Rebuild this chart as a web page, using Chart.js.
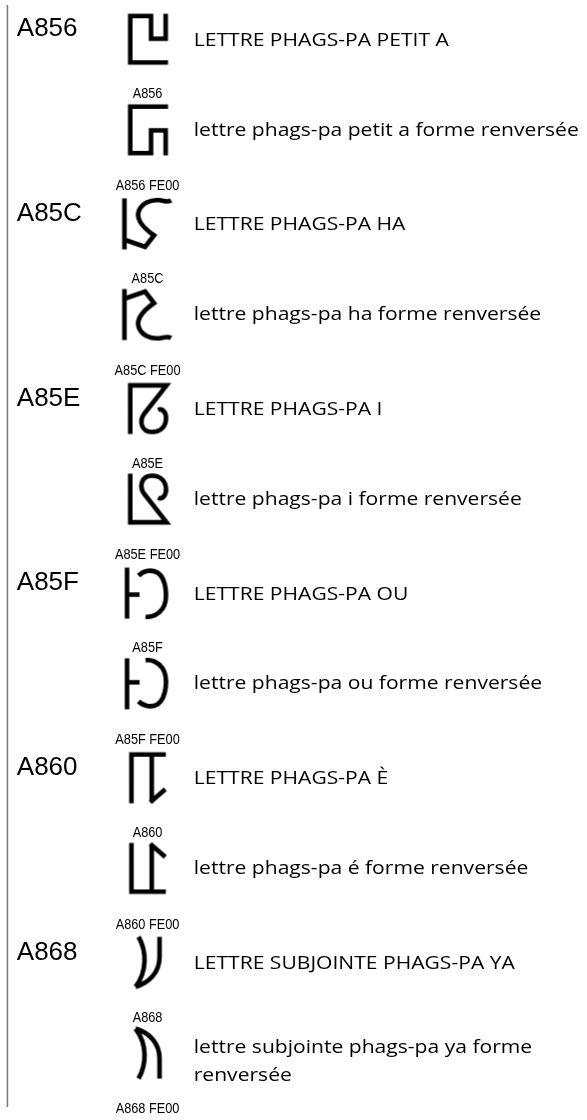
<!DOCTYPE html>
<html>
<head>
<meta charset="utf-8">
<script src="https://cdn.jsdelivr.net/npm/chart.js@4/dist/chart.umd.min.js"></script>
<style>
  html, body { margin: 0; padding: 0; background: #fff; }
  canvas { display: block; }
</style>
</head>
<body>
<canvas id="chart" width="587" height="1120"></canvas>
<script>
const codePoints = ['A856', 'A85C', 'A85E', 'A85F', 'A860', 'A868'];
const variantSelector = 'FE00';
const mainNames = [
  'LETTRE PHAGS-PA PETIT A',
  'LETTRE PHAGS-PA HA',
  'LETTRE PHAGS-PA I',
  'LETTRE PHAGS-PA OU',
  'LETTRE PHAGS-PA È',
  'LETTRE SUBJOINTE PHAGS-PA YA'
];
const variantNames = [
  'lettre phags-pa petit a forme renversée',
  'lettre phags-pa ha forme renversée',
  'lettre phags-pa i forme renversée',
  'lettre phags-pa ou forme renversée',
  'lettre phags-pa é forme renversée',
  'lettre subjointe phags-pa ya forme\nrenversée'
];

// row geometry (pixels)
const firstBase = 31.7, pitch = 186.3, glyphX = 145;
function rowBase(i) { return firstBase + pitch * i; }

// glyph outlines, local box ~51px high; ox = local x that sits on glyphX
const glyphShapes = {
  A856: { ox: 19.5, draw(g) {
    g.moveTo(37.6, 0); g.lineTo(37.6, 25); g.lineTo(23, 25); g.lineTo(23, 2.3);
    g.lineTo(2.2, 2.3); g.lineTo(2.2, 48.7); g.lineTo(40, 48.7);
  }},
  A85C: { ox: 25.5, draw(g) {
    g.moveTo(2.4, 0); g.lineTo(2.4, 51);
    g.moveTo(3, 41.5); g.lineTo(23, 48.5); g.lineTo(32, 37);
    g.bezierCurveTo(22, 30, 13, 21, 17, 12);
    g.bezierCurveTo(20, 5, 28, 1, 37, 1.8);
    g.bezierCurveTo(42, 2.2, 45, 4.5, 49, 2);
  }},
  A85E: { ox: 19.5, draw(g) {
    g.moveTo(2.2, 51); g.lineTo(2.2, 2.4); g.lineTo(38.5, 2.4); g.lineTo(16, 31);
    g.bezierCurveTo(11, 38, 13, 49, 24, 49);
    g.bezierCurveTo(33, 49, 38, 43, 38, 35);
    g.bezierCurveTo(38, 29, 34, 25, 30, 27);
  }},
  A85F: { ox: 23, draw(g) {
    g.moveTo(2.5, 0); g.lineTo(2.5, 51);
    g.moveTo(3, 27); g.lineTo(15, 27);
    g.moveTo(14, 8);
    g.bezierCurveTo(19, 3, 27, 1.5, 33, 5);
    g.bezierCurveTo(42, 11, 44, 32, 38, 41);
    g.bezierCurveTo(34, 47, 27, 50, 21, 49);
  }},
  A860: { ox: 18.3, draw(g) {
    g.moveTo(2.2, 51); g.lineTo(2.2, 2.3); g.lineTo(36.6, 2.3);
    g.moveTo(22.5, 2.3); g.lineTo(22.5, 50);
    g.moveTo(21, 50); g.lineTo(36, 37);
  }},
  A868: { ox: 15, draw(g) {
    g.moveTo(6, 0); g.bezierCurveTo(14, 14, 15, 34, 3, 50);
    g.moveTo(27, 0); g.lineTo(27, 20); g.bezierCurveTo(27, 36, 16, 46, 3, 50);
  }}
};

function glyphImage(code, flipped) {
  const c = document.createElement('canvas');
  c.width = 70; c.height = 70;
  const g = c.getContext('2d');
  const shape = glyphShapes[code];
  g.translate(35, 35);
  if (flipped) g.scale(1, -1);
  g.translate(-shape.ox, -25.5);
  g.strokeStyle = '#000';
  g.lineWidth = 4.6;
  g.lineJoin = 'miter';
  g.lineCap = 'butt';
  g.beginPath();
  shape.draw(g);
  g.stroke();
  return c;
}

const mainImages = codePoints.map(c => glyphImage(c, false));
const variantImages = codePoints.map(c => glyphImage(c, true));

const labelsPlugin = {
  id: 'chartLabels',
  afterDatasetsDraw(chart) {
    const ctx = chart.ctx;
    const xs = chart.scales.x, ys = chart.scales.y;
    ctx.save();

    // left rule
    ctx.strokeStyle = '#777';
    ctx.lineWidth = 1.5;
    ctx.beginPath();
    ctx.moveTo(xs.getPixelForValue(2.5), ys.getPixelForValue(0));
    ctx.lineTo(xs.getPixelForValue(2.5), ys.getPixelForValue(1112));
    ctx.stroke();

    ctx.fillStyle = '#000';
    ctx.textBaseline = 'alphabetic';

    ctx.font = '19px "Open Sans"';
    const nameScale = 385 / ctx.measureText(variantNames[0]).width;

    function smallLabel(text, y) {
      ctx.save();
      ctx.font = '15px "Liberation Sans", Arial';
      ctx.textAlign = 'center';
      ctx.translate(xs.getPixelForValue(glyphX), ys.getPixelForValue(y));
      ctx.scale(0.85, 1);
      ctx.fillText(text, 0, 0);
      ctx.restore();
    }

    function nameText(text, y) {
      ctx.save();
      ctx.font = '19px "Open Sans"';
      ctx.textAlign = 'left';
      ctx.translate(xs.getPixelForValue(192), ys.getPixelForValue(y));
      ctx.scale(nameScale, 1);
      ctx.fillText(text, 0, 0);
      ctx.restore();
    }

    codePoints.forEach((code, i) => {
      const b = rowBase(i);
      ctx.font = '26px "Liberation Sans", Arial';
      ctx.textAlign = 'left';
      ctx.fillText(code, xs.getPixelForValue(12), ys.getPixelForValue(b));

      nameText(mainNames[i], b + 9.5);
      smallLabel(code, b + 62.5);

      const lines = variantNames[i].split('\n');
      if (lines.length === 1) {
        nameText(lines[0], b + 100);
      } else {
        lines.forEach((ln, k) => nameText(ln, b + 94 + k * 28));
      }
      smallLabel(code + ' ' + variantSelector, b + 155);
    });
    ctx.restore();
  }
};

new Chart(document.getElementById('chart'), {
  type: 'scatter',
  data: {
    datasets: [
      {
        label: 'forme standard',
        data: codePoints.map((c, i) => ({ x: glyphX, y: rowBase(i) + 2.8 })),
        pointStyle: mainImages,
        clip: false
      },
      {
        label: 'forme renversée',
        data: codePoints.map((c, i) => ({ x: glyphX, y: rowBase(i) + 94.3 })),
        pointStyle: variantImages,
        clip: false
      }
    ]
  },
  options: {
    responsive: false,
    animation: false,
    events: [],
    layout: { padding: 0 },
    plugins: { legend: { display: false }, tooltip: { enabled: false } },
    scales: {
      x: { type: 'linear', min: 0, max: 587, display: false },
      y: { type: 'linear', min: 0, max: 1120, reverse: true, display: false }
    }
  },
  plugins: [labelsPlugin]
});
</script>
</body>
</html>
